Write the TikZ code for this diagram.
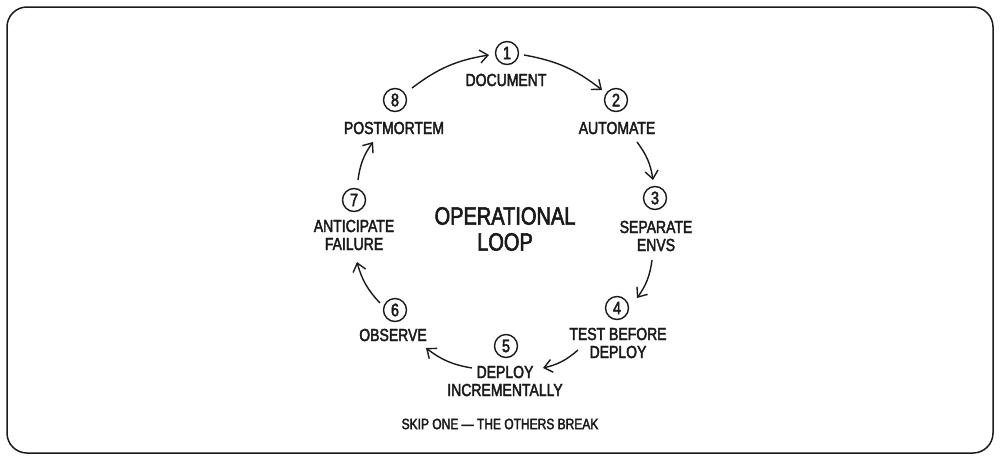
\documentclass[tikz,border=0pt]{standalone}
\usepackage{fontspec}
\setmainfont{Liberation Sans}[FakeStretch=0.8,FakeBold=2.4]
\usetikzlibrary{arrows.meta,calc}
\definecolor{ink}{HTML}{1A1A1A}
\begin{document}
\begin{tikzpicture}[x=1pt,y=-1pt,
  num/.style={circle,draw=ink,line width=1.4pt,minimum size=23pt,inner sep=0pt,font=\fontsize{18}{18}\selectfont,text=ink},
  lbl/.style={align=center,inner sep=0pt,font=\fontsize{17.5}{18}\selectfont,text=ink},
  flow/.style={draw=ink,line width=1.4pt,-{Straight Barb[length=8pt,width=13pt,line width=1.4pt]},bend left=14}]
\useasboundingbox (0,0) rectangle (1000,461);
\draw[ink,line width=1.5pt,rounded corners=20pt] (7,7) rectangle (993,453);
\node[num] (c1) at (507,53) {1};
\node[num] (c2) at (616,100) {2};
\node[num] (c3) at (655,198) {3};
\node[num] (c4) at (617,308) {4};
\node[num] (c5) at (506,346) {5};
\node[num] (c6) at (395,310) {6};
\node[num] (c7) at (354,200) {7};
\node[num] (c8) at (395,100) {8};
\node[lbl] (l1) at (506,80) {DOCUMENT};
\node[lbl] (l2) at (617,128) {AUTOMATE};
\node[lbl] (l3) at (656,236) {SEPARATE\\ENVS};
\node[lbl] (l4) at (618,343) {TEST BEFORE\\DEPLOY};
\node[lbl] (l5) at (505,381) {DEPLOY\\INCREMENTALLY};
\node[lbl] (l6) at (393,335) {OBSERVE};
\node[lbl] (l7) at (354,235) {ANTICIPATE\\FAILURE};
\node[lbl] (l8) at (394,128) {POSTMORTEM};
\node[align=center,inner sep=0pt,text=ink,font=\fontsize{25}{26}\selectfont] (title) at (505,229) {OPERATIONAL\\LOOP};
\node[inner sep=0pt,text=ink,font=\fontsize{15}{15}\selectfont] (foot) at (500,424) {SKIP ONE — THE OTHERS BREAK};
% arrow end points, placed from the circles
\coordinate (s81) at ($(c8)+(17,-12)$);  \coordinate (e81) at ($(c1)+(-18,2)$);
\coordinate (s12) at ($(c1)+(17,2)$);    \coordinate (e12) at ($(c2)+(-14,-10)$);
\coordinate (s23) at ($(c2)+(21,42)$);   \coordinate (e23) at ($(c3)+(-2,-18)$);
\coordinate (s34) at ($(c3)+(-3,62)$);   \coordinate (e34) at ($(c4)+(20,-10)$);
\coordinate (s45) at ($(c4)+(-39,42)$);  \coordinate (e45) at ($(c5)+(37,22)$);
\coordinate (s56) at ($(c5)+(-34,22)$);  \coordinate (e56) at ($(c6)+(31,38)$);
\coordinate (s67) at ($(c6)+(-15,-7)$);  \coordinate (e67) at ($(c7)+(3,62)$);
\coordinate (s78) at ($(c7)+(4,-20)$);   \coordinate (e78) at ($(c8)+(-22,42)$);
\draw[flow] (s81) to (e81);
\draw[flow] (s12) to (e12);
\draw[flow] (s23) to (e23);
\draw[flow] (s34) to (e34);
\draw[flow] (s45) to (e45);
\draw[flow] (s56) to (e56);
\draw[flow] (s67) to (e67);
\draw[flow] (s78) to (e78);
\end{tikzpicture}
\end{document}
